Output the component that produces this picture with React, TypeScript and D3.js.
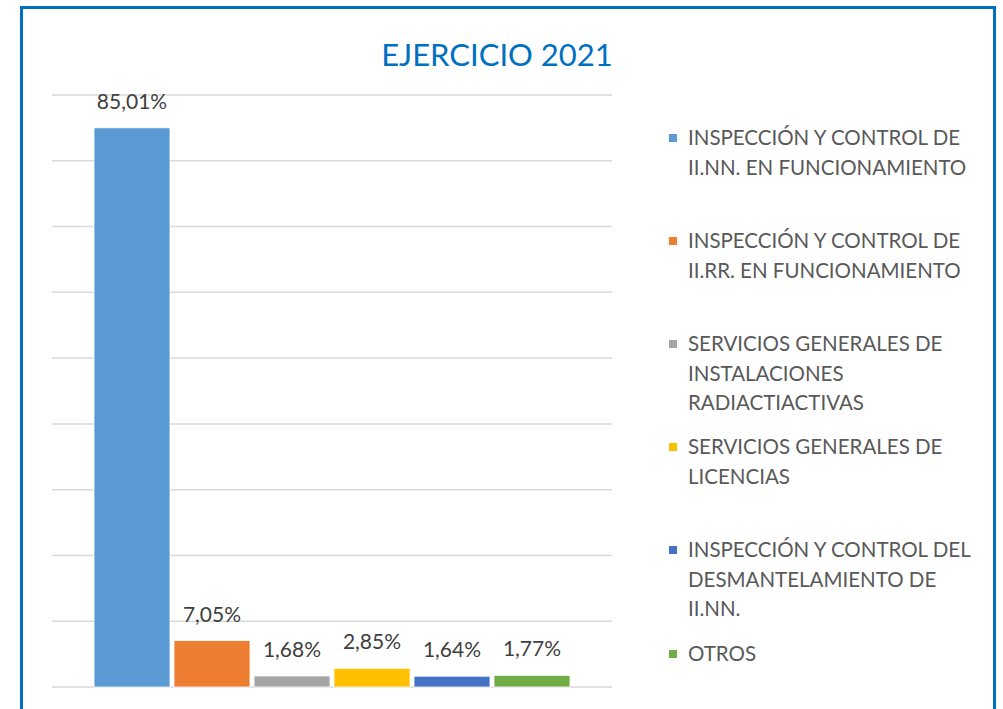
import React from "react";
import * as d3 from "d3";

const categories = [
  "INSPECCIÓN Y CONTROL DE II.NN. EN FUNCIONAMIENTO",
  "INSPECCIÓN Y CONTROL DE II.RR. EN FUNCIONAMIENTO",
  "SERVICIOS GENERALES DE INSTALACIONES RADIACTIACTIVAS",
  "SERVICIOS GENERALES DE LICENCIAS",
  "INSPECCIÓN Y CONTROL DEL DESMANTELAMIENTO DE II.NN.",
  "OTROS",
];
const legendLines = [
  ["INSPECCIÓN Y CONTROL DE", "II.NN. EN FUNCIONAMIENTO"],
  ["INSPECCIÓN Y CONTROL DE", "II.RR. EN FUNCIONAMIENTO"],
  ["SERVICIOS GENERALES DE", "INSTALACIONES", "RADIACTIACTIVAS"],
  ["SERVICIOS GENERALES DE", "LICENCIAS"],
  ["INSPECCIÓN Y CONTROL DEL", "DESMANTELAMIENTO DE", "II.NN."],
  ["OTROS"],
];
const values = [85.01, 7.05, 1.68, 2.85, 1.64, 1.77];
const colors = ["#5B9BD5", "#ED7D31", "#A5A5A5", "#FFC000", "#4472C4", "#70AD47"];
const yTicks = [0, 10, 20, 30, 40, 50, 60, 70, 80, 90];
const legendTops = [138, 241, 344, 447, 550, 654];

const FONT = "Lato, 'Open Sans', sans-serif";

export default function App() {
  const plotLeft = 52;
  const plotRight = 612;
  const y = d3.scaleLinear().domain([0, 90]).range([687, 95]);
  const outer = d3.scaleBand().domain(["g"]).range([plotLeft, plotRight]).paddingInner(0).paddingOuter(42 / 476);
  const gStart = outer("g")!;
  const gW = outer.bandwidth();
  const x = d3.scaleBand<string>().domain(categories).range([gStart, gStart + gW]).paddingInner(0.05);
  const fmt = (v: number) => v.toFixed(2).replace(".", ",") + "%";

  return (
    <svg width={1003} height={709} style={{ position: "absolute", left: 0, top: 0, background: "#fff" }}>
      <rect x={21.5} y={7.5} width={973} height={760} fill="#fff" stroke="#0070C0" strokeWidth={3} />
      <text x={497} y={66} textAnchor="middle" fontFamily={FONT} fontSize={31} fill="#0070C0">EJERCICIO 2021</text>
      {yTicks.map((t) => (
        <line key={t} x1={plotLeft} x2={plotRight} y1={y(t)} y2={y(t)} stroke="#D9D9D9" strokeWidth={1.5} />
      ))}
      {categories.map((c, i) => (
        <g key={c}>
          <rect x={x(c)!} y={y(values[i])} width={x.bandwidth()} height={y(0) - y(values[i])} fill={colors[i]} stroke="#fff" strokeWidth={0.8} />
          <text x={x(c)! + x.bandwidth() / 2} y={y(values[i]) - 19} textAnchor="middle" fontFamily={FONT} fontSize={21} fill="#404040">{fmt(values[i])}</text>
        </g>
      ))}
      {legendLines.map((lines, i) => (
        <g key={i}>
          <rect x={669} y={legendTops[i] - 4} width={8} height={8} fill={colors[i]} />
          {lines.map((l, j) => (
            <text key={j} x={688} y={legendTops[i] + 7 + j * 29.5} fontFamily={FONT} fontSize={20.5} fill="#595959">{l}</text>
          ))}
        </g>
      ))}
    </svg>
  );
}
